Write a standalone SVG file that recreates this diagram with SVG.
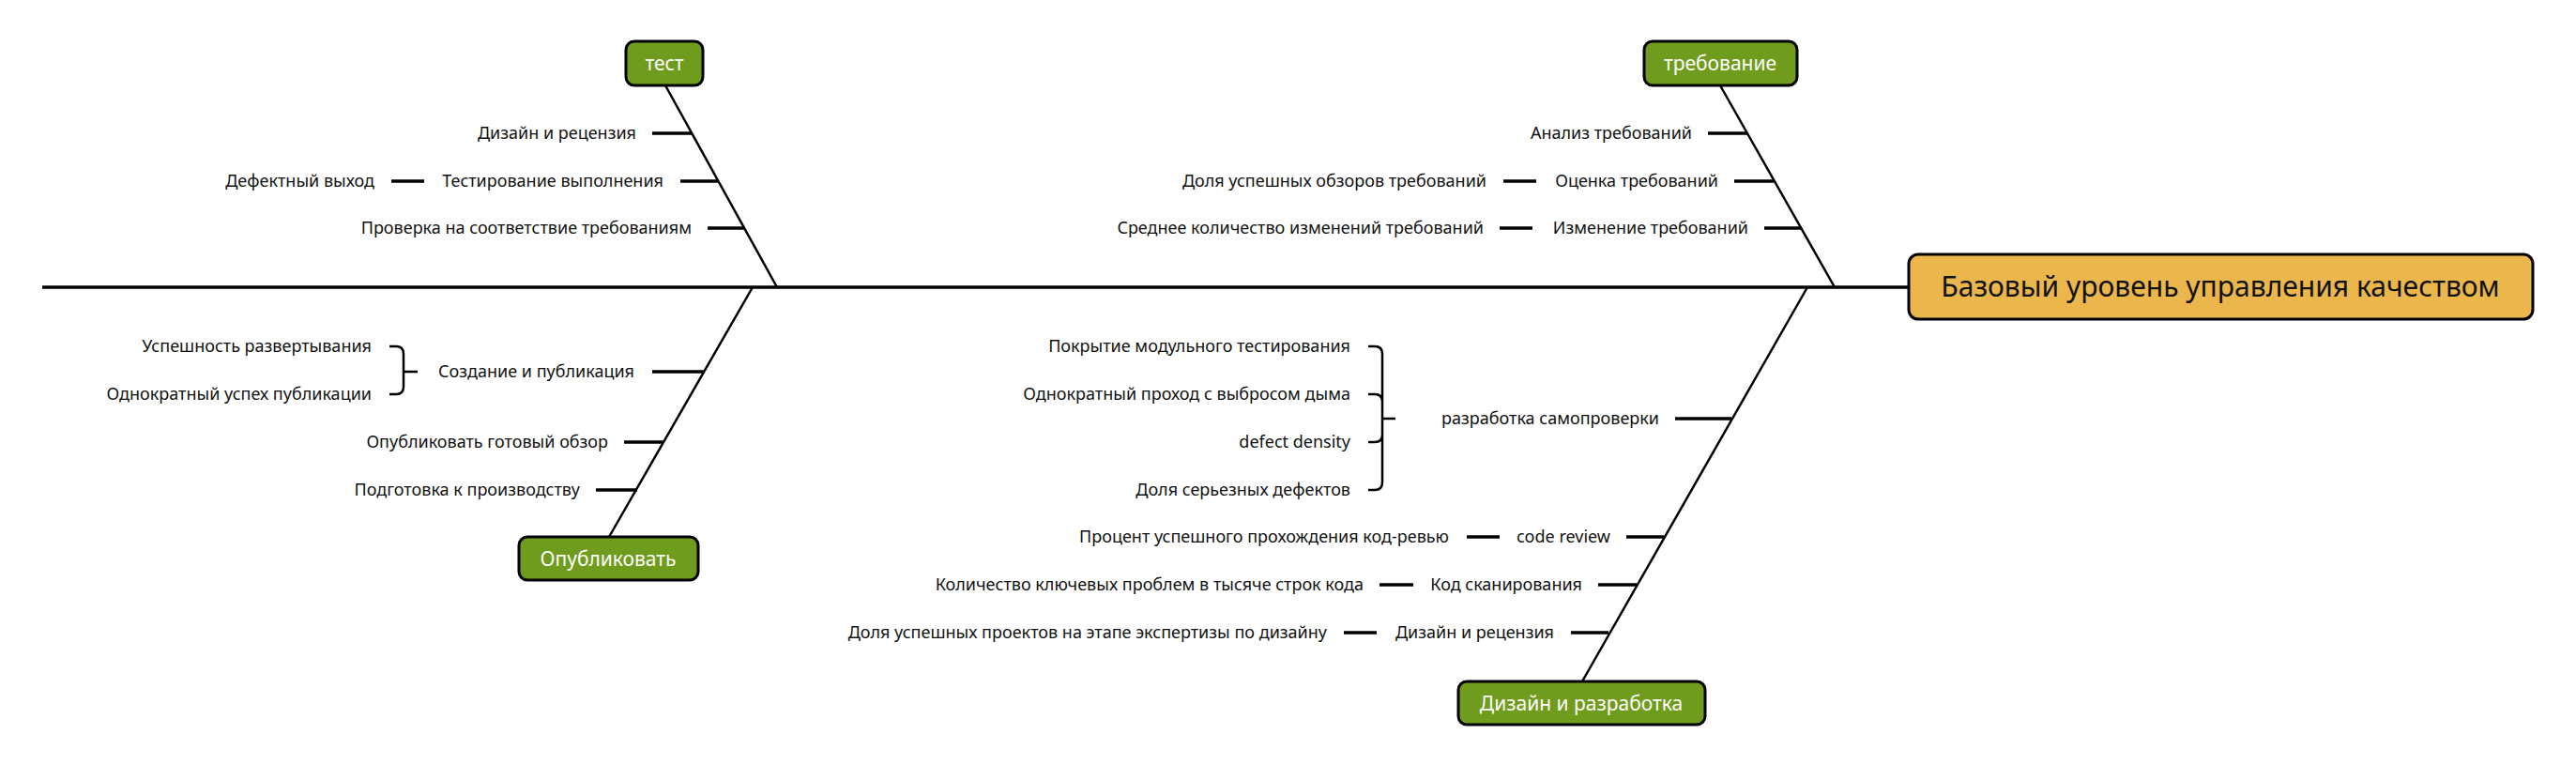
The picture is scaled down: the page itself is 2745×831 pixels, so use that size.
<svg xmlns="http://www.w3.org/2000/svg" width="2745" height="831" viewBox="0 0 2745 831">
<style>
text{font-family:"Noto Sans","Open Sans","Liberation Sans",sans-serif;font-size:18px;fill:#111}
.e{text-anchor:end}
.c{text-anchor:middle;fill:#fff;font-size:21px}
.r{text-anchor:middle;font-size:30px;fill:#111}
.t{stroke:#000;stroke-width:3.5;fill:none}
.b{stroke:#000;stroke-width:2.5;fill:none}
.g{fill:#6f9c1c;stroke:#000;stroke-width:3}
</style>
<rect width="2745" height="831" fill="#fff"/>
<g id="connectors">
<line class="t" x1="45" y1="306" x2="2034" y2="306"/>
<line class="b" x1="709" y1="91" x2="828" y2="306"/>
<line class="b" x1="649" y1="572" x2="802" y2="306"/>
<line class="b" x1="1833" y1="91" x2="1955" y2="306"/>
<line class="b" x1="1686" y1="726" x2="1926" y2="306"/>
<g class="t">
<line x1="695" y1="142" x2="737" y2="142"/>
<line x1="725" y1="193" x2="765" y2="193"/>
<line x1="417" y1="193" x2="452" y2="193"/>
<line x1="754" y1="243" x2="793" y2="243"/>
<line x1="695" y1="396" x2="751" y2="396"/>
<line x1="665" y1="471" x2="707" y2="471"/>
<line x1="635" y1="522" x2="679" y2="522"/>
<line x1="1820" y1="142" x2="1862" y2="142"/>
<line x1="1848" y1="193" x2="1890" y2="193"/>
<line x1="1602" y1="193" x2="1637" y2="193"/>
<line x1="1880" y1="243" x2="1920" y2="243"/>
<line x1="1598" y1="243" x2="1633" y2="243"/>
<line x1="1785" y1="446" x2="1845" y2="446"/>
<line x1="1733" y1="572" x2="1773" y2="572"/>
<line x1="1563" y1="572" x2="1598" y2="572"/>
<line x1="1703" y1="623" x2="1744" y2="623"/>
<line x1="1470" y1="623" x2="1506" y2="623"/>
<line x1="1674" y1="674" x2="1714" y2="674"/>
<line x1="1432" y1="674" x2="1467" y2="674"/>
</g>
<path class="b" d="M415 369 h7 q8 0 8 8 V412 q0 8 -8 8 h-7 M430 396 h15"/>
<path class="b" d="M1458 369 h7 q8 0 8 8 V514 q0 8 -8 8 h-7 M1458 420 h7 q8 0 8 8 M1458 471 h7 q8 0 8 -8 M1473 446 h14"/>
</g>
<g id="root"><rect x="2034" y="271" width="665" height="69" rx="10" fill="#ebb64b" stroke="#000" stroke-width="3"/><text class="r" x="2366" y="316">Базовый уровень управления качеством</text></g>
<g id="test"><rect class="g" x="667" y="44" width="82" height="47" rx="9"/><text class="c" x="708" y="75">тест</text></g>
<g id="publish"><rect class="g" x="553" y="572" width="191" height="46" rx="9"/><text class="c" x="648" y="603">Опубликовать</text></g>
<g id="req"><rect class="g" x="1752" y="44" width="163" height="47" rx="9"/><text class="c" x="1833" y="75">требование</text></g>
<g id="design"><rect class="g" x="1554" y="726" width="263" height="46" rx="9"/><text class="c" x="1685" y="757">Дизайн и разработка</text></g>
<g id="test-items">
<text class="e" x="678" y="148">Дизайн и рецензия</text>
<text class="e" x="707" y="199">Тестирование выполнения</text>
<text class="e" x="399" y="199">Дефектный выход</text>
<text class="e" x="737" y="249">Проверка на соответствие требованиям</text>
</g>
<g id="publish-items">
<text class="e" x="676" y="402">Создание и публикация</text>
<text class="e" x="396" y="375">Успешность развертывания</text>
<text class="e" x="396" y="426">Однократный успех публикации</text>
<text class="e" x="648" y="477">Опубликовать готовый обзор</text>
<text class="e" x="618" y="528">Подготовка к производству</text>
</g>
<g id="req-items">
<text class="e" x="1803" y="148">Анализ требований</text>
<text class="e" x="1831" y="199">Оценка требований</text>
<text class="e" x="1584" y="199">Доля успешных обзоров требований</text>
<text class="e" x="1863" y="249">Изменение требований</text>
<text class="e" x="1581" y="249">Среднее количество изменений требований</text>
</g>
<g id="design-items">
<text class="e" x="1768" y="452">разработка самопроверки</text>
<text class="e" x="1439" y="375">Покрытие модульного тестирования</text>
<text class="e" x="1439" y="426">Однократный проход с выбросом дыма</text>
<text class="e" x="1439" y="477">defect density</text>
<text class="e" x="1439" y="528">Доля серьезных дефектов</text>
<text class="e" x="1716" y="578">code review</text>
<text class="e" x="1544" y="578">Процент успешного прохождения код-ревью</text>
<text class="e" x="1686" y="629">Код сканирования</text>
<text class="e" x="1453" y="629">Количество ключевых проблем в тысяче строк кода</text>
<text class="e" x="1656" y="680">Дизайн и рецензия</text>
<text class="e" x="1414" y="680">Доля успешных проектов на этапе экспертизы по дизайну</text>
</g>
</svg>
